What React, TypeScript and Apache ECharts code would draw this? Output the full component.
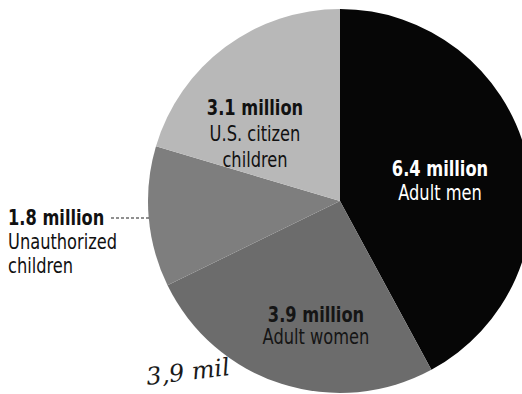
import React, { useEffect, useRef } from "react";
import * as echarts from "echarts";

// ---- data ----
const categories = ["Adult men", "Adult women", "Unauthorized children", "U.S. citizen children"];
const valuesMillions = [6.4, 3.9, 1.8, 3.1];
const labelLines = [["Adult men"], ["Adult women"], ["Unauthorized", "children"], ["U.S. citizen", "children"]];
const handNote = "3,9 mil";

// ---- styles / layout ----
const sliceColors = ["#060606", "#6c6c6c", "#7e7e7e", "#b8b8b8"];
const labelLayout = [
  { x: 440, y: 169, align: "center", color: "#ffffff", gap: 24 },
  { x: 316, y: 315, align: "center", color: "#151515", gap: 22 },
  { x: 8, y: 218, align: "left", color: "#111111", gap: 24 },
  { x: 255, y: 108, align: "center", color: "#111111", gap: 26 },
];
const FONT = "'DejaVu Sans Condensed', 'DejaVu Sans', sans-serif";
const SX = 0.86;

export default function App() {
  const ref = useRef<HTMLDivElement>(null);
  useEffect(() => {
    if (!ref.current) return;
    const chart = echarts.init(ref.current, undefined, { renderer: "svg" });
    const graphics: any[] = [];
    categories.forEach((c, i) => {
      const L = labelLayout[i];
      graphics.push({
        type: "text",
        x: L.x,
        y: L.y,
        scaleX: SX,
        z: 10,
        style: {
          text: `${valuesMillions[i]} million`,
          fill: L.color,
          font: `bold 21px ${FONT}`,
          align: L.align,
          verticalAlign: "middle",
        },
      });
      labelLines[i].forEach((ln, j) => {
        graphics.push({
          type: "text",
          x: L.x,
          y: L.y + L.gap * (j + 1),
          scaleX: SX,
          z: 10,
          style: {
            text: ln,
            fill: L.color,
            font: `21px ${FONT}`,
            align: L.align,
            verticalAlign: "middle",
          },
        });
      });
    });
    // leader line for unauthorized children
    graphics.push({
      type: "line",
      z: 10,
      shape: { x1: 111, y1: 218, x2: 150, y2: 218 },
      style: { stroke: "#222", lineWidth: 1.2, lineDash: [3, 2] },
    });
    // handwritten note
    graphics.push({
      type: "text",
      x: 188,
      y: 372,
      rotation: 0.12,
      z: 10,
      style: {
        text: handNote,
        fill: "#1a1a1a",
        font: `italic 24px 'DejaVu Serif', serif`,
        align: "center",
        verticalAlign: "middle",
      },
    });

    chart.setOption({
      animation: false,
      backgroundColor: "#ffffff",
      series: [
        {
          type: "pie",
          center: [340, 201],
          radius: 192,
          startAngle: 90,
          clockwise: true,
          label: { show: false },
          labelLine: { show: false },
          emphasis: { disabled: true },
          itemStyle: { borderWidth: 0 },
          data: categories.map((c, i) => ({
            name: c,
            value: valuesMillions[i],
            itemStyle: { color: sliceColors[i] },
          })),
        },
      ],
      graphic: graphics,
    });
    return () => chart.dispose();
  }, []);
  return (
    <div
      ref={ref}
      style={{ position: "fixed", left: 0, top: 0, width: 522, height: 394 }}
    />
  );
}
